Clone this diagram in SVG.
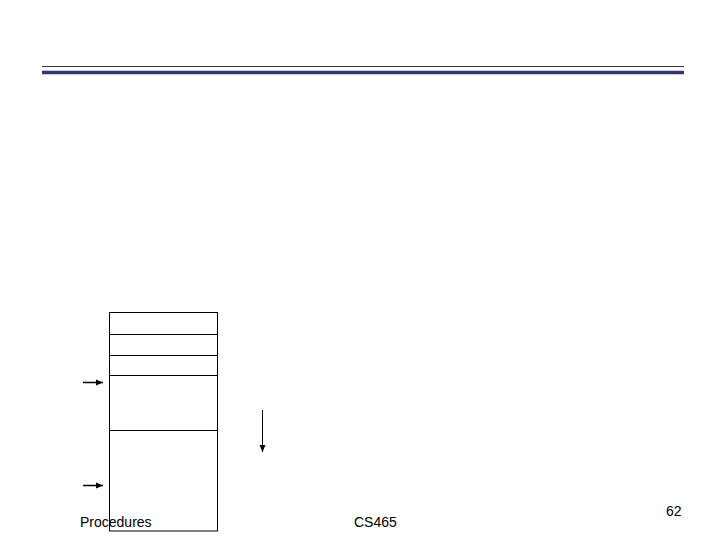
<svg xmlns="http://www.w3.org/2000/svg" width="720" height="540" viewBox="0 0 720 540">
<defs>
<marker id="ah" markerWidth="8" markerHeight="8" refX="7" refY="4" orient="auto" markerUnits="userSpaceOnUse">
<path d="M0,1 L7,4 L0,7 Z" fill="#000"/>
</marker>
<style>
.t{font-family:"Liberation Sans",Arial,sans-serif;font-size:14px;fill:#000}
.b{fill:none;stroke:#000;stroke-width:1}
.c{stroke:#000;stroke-width:1.5;fill:none}
</style>
</defs>
<rect width="720" height="540" fill="#fff"/>
<line x1="42" y1="66.5" x2="684" y2="66.5" stroke="#333344" stroke-width="1"/>
<line x1="42" y1="72.5" x2="684" y2="72.5" stroke="#333377" stroke-width="3.5"/>
<g id="stack">
<rect class="b" x="109.5" y="312.5" width="108" height="218.5"/>
<line class="b" x1="109.5" y1="334.5" x2="217.5" y2="334.5"/>
<line class="b" x1="109.5" y1="355.5" x2="217.5" y2="355.5"/>
<line class="b" x1="109.5" y1="375.5" x2="217.5" y2="375.5"/>
<line class="b" x1="109.5" y1="430.5" x2="217.5" y2="430.5"/>
</g>
<g id="connectors">
<line class="c" x1="83" y1="382.5" x2="103" y2="382.5" marker-end="url(#ah)"/>
<line class="c" x1="83" y1="485.5" x2="103" y2="485.5" marker-end="url(#ah)"/>
<line x1="262.5" y1="410" x2="262.5" y2="452" stroke="#000" stroke-width="1" marker-end="url(#ah)"/>
</g>
<text class="t" x="80" y="527">Procedures</text>
<text class="t" x="354" y="527">CS465</text>
<text class="t" x="666" y="516">62</text>
</svg>
